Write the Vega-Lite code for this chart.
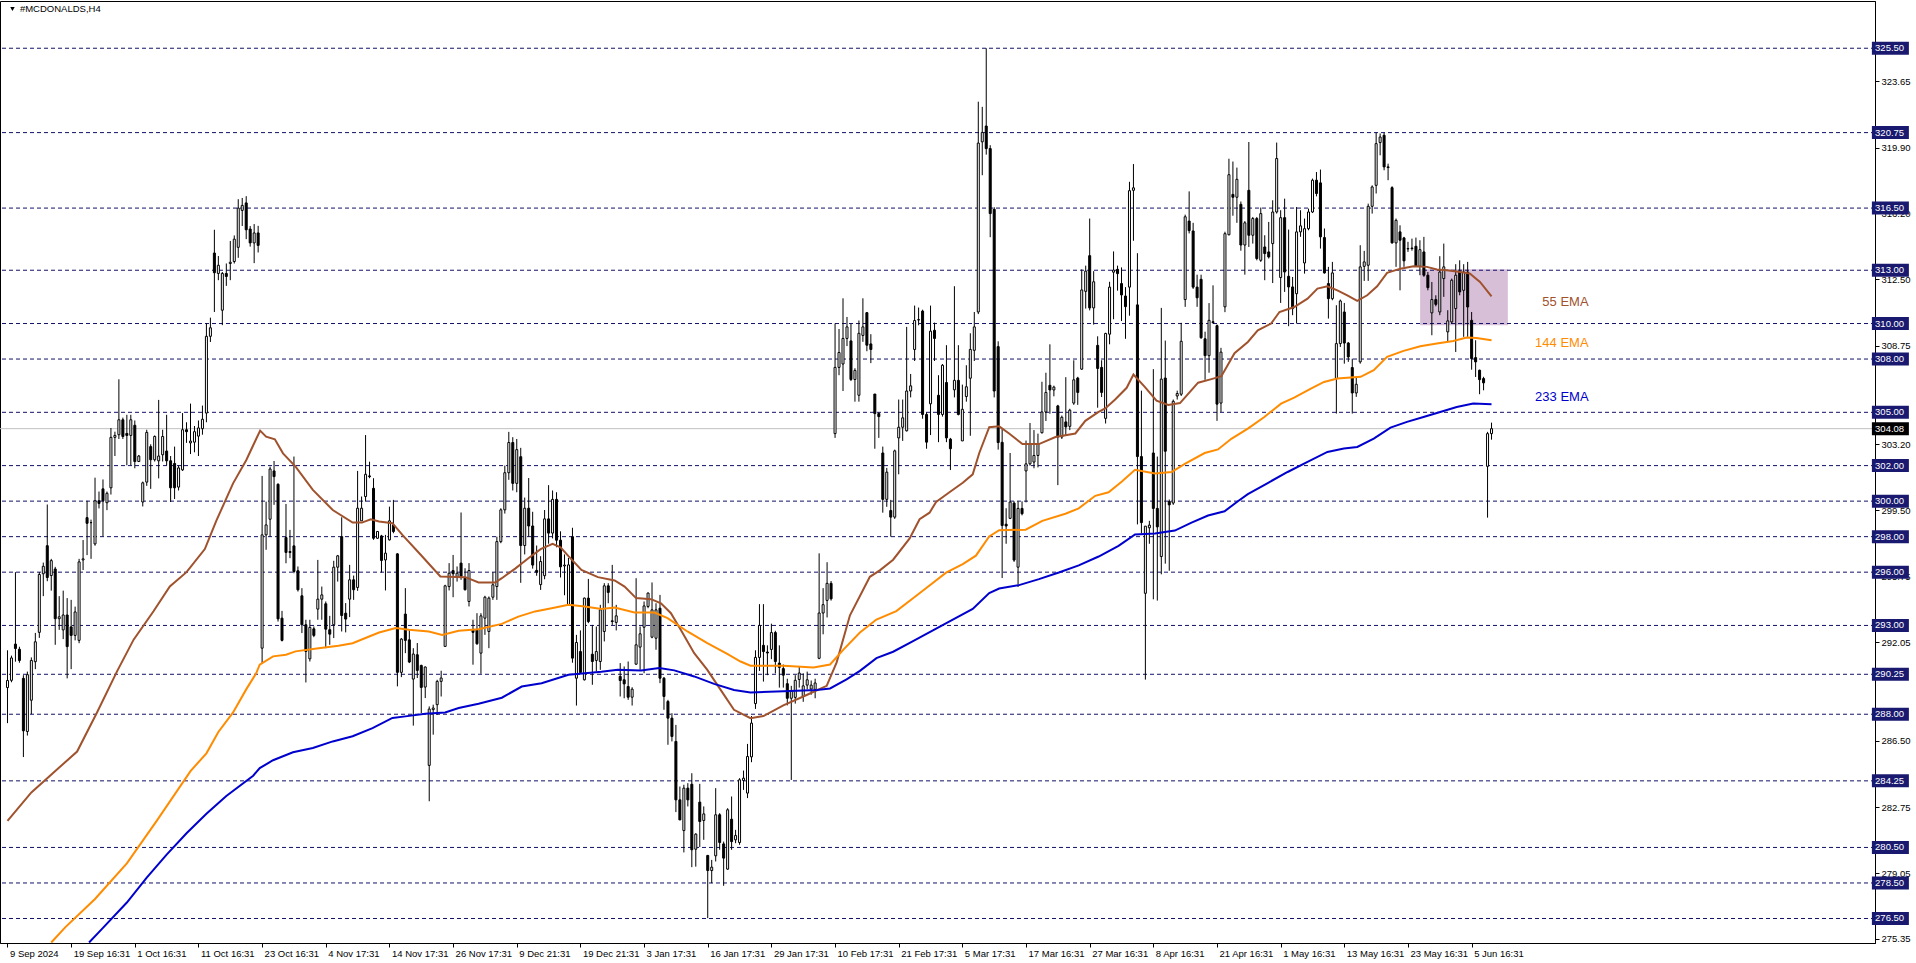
{
"$schema": "https://vega.github.io/schema/vega-lite/v6.json",
"autosize": "none",
"width": 1875,
"height": 942,
"padding": {"left": 0, "top": 1, "right": 41, "bottom": 20},
"background": "white",
"config": {"view": {"stroke": "#000000", "strokeWidth": 1}, "axis": {"labelFont": "Liberation Sans", "labelFontSize": 9.5}},
"datasets": {
"levels": [{"p":325.5},{"p":320.75},{"p":316.5},{"p":313},{"p":310},{"p":308},{"p":305},{"p":302},{"p":300},{"p":298},{"p":296},{"p":293},{"p":290.25},{"p":288},{"p":284.25},{"p":280.5},{"p":278.5},{"p":276.5}],
"emalabels": [{"s":"55 EMA","v":311.21},{"s":"144 EMA","v":308.9},{"s":"233 EMA","v":305.86}],
"ema": [
{"s":"55 EMA","i":0,"v":282.0},{"s":"55 EMA","i":6,"v":283.6},{"s":"55 EMA","i":13,"v":285.0},{"s":"55 EMA","i":17.5,"v":285.9},{"s":"55 EMA","i":22.5,"v":288.1},{"s":"55 EMA","i":27.5,"v":290.4},{"s":"55 EMA","i":31.7,"v":292.2},{"s":"55 EMA","i":36.7,"v":293.8},{"s":"55 EMA","i":40.8,"v":295.2},{"s":"55 EMA","i":45,"v":296.0},{"s":"55 EMA","i":49.6,"v":297.3},{"s":"55 EMA","i":52.5,"v":298.9},{"s":"55 EMA","i":56.7,"v":301.0},{"s":"55 EMA","i":60,"v":302.3},{"s":"55 EMA","i":62.5,"v":303.5},{"s":"55 EMA","i":63.5,"v":303.97},{"s":"55 EMA","i":65,"v":303.63},{"s":"55 EMA","i":67.2,"v":303.48},{"s":"55 EMA","i":69.25,"v":302.69},{"s":"55 EMA","i":72.4,"v":301.94},{"s":"55 EMA","i":76.75,"v":300.63},{"s":"55 EMA","i":81.75,"v":299.5},{"s":"55 EMA","i":86.75,"v":298.79},{"s":"55 EMA","i":89.1,"v":298.79},{"s":"55 EMA","i":91.3,"v":298.98},{"s":"55 EMA","i":93.4,"v":298.85},{"s":"55 EMA","i":96.75,"v":298.76},{"s":"55 EMA","i":99.25,"v":298.1},{"s":"55 EMA","i":104.25,"v":296.88},{"s":"55 EMA","i":108.8,"v":295.76},{"s":"55 EMA","i":115.1,"v":295.72},{"s":"55 EMA","i":118.4,"v":295.42},{"s":"55 EMA","i":122.6,"v":295.42},{"s":"55 EMA","i":124.25,"v":295.66},{"s":"55 EMA","i":127.6,"v":296.2},{"s":"55 EMA","i":131,"v":296.8},{"s":"55 EMA","i":134,"v":297.3},{"s":"55 EMA","i":137,"v":297.6},{"s":"55 EMA","i":139,"v":297.4},{"s":"55 EMA","i":141,"v":296.9},{"s":"55 EMA","i":144.25,"v":296.13},{"s":"55 EMA","i":148.4,"v":295.72},{"s":"55 EMA","i":152.6,"v":295.53},{"s":"55 EMA","i":155.1,"v":295.19},{"s":"55 EMA","i":158,"v":294.54},{"s":"55 EMA","i":161.75,"v":294.48},{"s":"55 EMA","i":164.25,"v":294.25},{"s":"55 EMA","i":166.75,"v":293.69},{"s":"55 EMA","i":169.25,"v":292.75},{"s":"55 EMA","i":172.6,"v":291.44},{"s":"55 EMA","i":175.9,"v":290.5},{"s":"55 EMA","i":179.25,"v":289.37},{"s":"55 EMA","i":182.6,"v":288.25},{"s":"55 EMA","i":186.75,"v":287.78},{"s":"55 EMA","i":190,"v":287.9},{"s":"55 EMA","i":195,"v":288.5},{"s":"55 EMA","i":201,"v":289.1},{"s":"55 EMA","i":205.9,"v":289.6},{"s":"55 EMA","i":208.4,"v":290.92},{"s":"55 EMA","i":211.75,"v":293.57},{"s":"55 EMA","i":216.75,"v":295.74},{"s":"55 EMA","i":219.25,"v":296.1},{"s":"55 EMA","i":222.6,"v":296.7},{"s":"55 EMA","i":226.75,"v":297.9},{"s":"55 EMA","i":229.25,"v":298.98},{"s":"55 EMA","i":231.75,"v":299.35},{"s":"55 EMA","i":233.4,"v":299.95},{"s":"55 EMA","i":236.75,"v":300.5},{"s":"55 EMA","i":240.1,"v":301.03},{"s":"55 EMA","i":242.6,"v":301.51},{"s":"55 EMA","i":244.25,"v":302.71},{"s":"55 EMA","i":246.75,"v":304.16},{"s":"55 EMA","i":249.25,"v":304.21},{"s":"55 EMA","i":251.75,"v":303.81},{"s":"55 EMA","i":255.1,"v":303.21},{"s":"55 EMA","i":259.25,"v":303.21},{"s":"55 EMA","i":263.4,"v":303.61},{"s":"55 EMA","i":268.4,"v":303.81},{"s":"55 EMA","i":270.9,"v":304.52},{"s":"55 EMA","i":274.25,"v":305.02},{"s":"55 EMA","i":275.9,"v":305.22},{"s":"55 EMA","i":278.4,"v":305.72},{"s":"55 EMA","i":281.3,"v":306.38},{"s":"55 EMA","i":283,"v":307.13},{"s":"55 EMA","i":285.9,"v":306.42},{"s":"55 EMA","i":288.8,"v":305.66},{"s":"55 EMA","i":291.75,"v":305.42},{"s":"55 EMA","i":294.7,"v":305.52},{"s":"55 EMA","i":299.25,"v":306.67},{"s":"55 EMA","i":302.6,"v":306.87},{"s":"55 EMA","i":305.1,"v":307.03},{"s":"55 EMA","i":308.4,"v":308.33},{"s":"55 EMA","i":311.75,"v":308.96},{"s":"55 EMA","i":314.25,"v":309.62},{"s":"55 EMA","i":317.6,"v":310.0},{"s":"55 EMA","i":319.7,"v":310.65},{"s":"55 EMA","i":323.4,"v":310.93},{"s":"55 EMA","i":326.75,"v":311.4},{"s":"55 EMA","i":329.25,"v":311.97},{"s":"55 EMA","i":331.75,"v":312.1},{"s":"55 EMA","i":334.25,"v":311.87},{"s":"55 EMA","i":336.75,"v":311.59},{"s":"55 EMA","i":339.25,"v":311.27},{"s":"55 EMA","i":341.75,"v":311.59},{"s":"55 EMA","i":344.25,"v":312.1},{"s":"55 EMA","i":346.75,"v":312.85},{"s":"55 EMA","i":350.1,"v":313.09},{"s":"55 EMA","i":353.4,"v":313.22},{"s":"55 EMA","i":356.75,"v":313.19},{"s":"55 EMA","i":359.25,"v":313.04},{"s":"55 EMA","i":361.75,"v":313.0},{"s":"55 EMA","i":365.1,"v":312.9},{"s":"55 EMA","i":367.6,"v":312.81},{"s":"55 EMA","i":370.1,"v":312.34},{"s":"55 EMA","i":373,"v":311.53},
{"s":"144 EMA","i":11,"v":275.15},{"s":"144 EMA","i":14.5,"v":276.0},{"s":"144 EMA","i":22,"v":277.6},{"s":"144 EMA","i":30,"v":279.6},{"s":"144 EMA","i":37.5,"v":282.0},{"s":"144 EMA","i":46,"v":284.8},{"s":"144 EMA","i":50,"v":285.8},{"s":"144 EMA","i":53,"v":287.0},{"s":"144 EMA","i":56.7,"v":288.1},{"s":"144 EMA","i":60,"v":289.4},{"s":"144 EMA","i":62.5,"v":290.3},{"s":"144 EMA","i":63.4,"v":290.79},{"s":"144 EMA","i":66.75,"v":291.26},{"s":"144 EMA","i":70,"v":291.35},{"s":"144 EMA","i":72.4,"v":291.54},{"s":"144 EMA","i":78.2,"v":291.72},{"s":"144 EMA","i":83.2,"v":291.86},{"s":"144 EMA","i":86.75,"v":292.0},{"s":"144 EMA","i":90.9,"v":292.38},{"s":"144 EMA","i":93.4,"v":292.6},{"s":"144 EMA","i":97.6,"v":292.85},{"s":"144 EMA","i":100.9,"v":292.76},{"s":"144 EMA","i":105.9,"v":292.66},{"s":"144 EMA","i":109.25,"v":292.47},{"s":"144 EMA","i":113.4,"v":292.7},{"s":"144 EMA","i":118.4,"v":292.79},{"s":"144 EMA","i":124.25,"v":293.09},{"s":"144 EMA","i":128.4,"v":293.5},{"s":"144 EMA","i":132.6,"v":293.79},{"s":"144 EMA","i":136.75,"v":293.97},{"s":"144 EMA","i":141,"v":294.16},{"s":"144 EMA","i":145.1,"v":294.07},{"s":"144 EMA","i":149.25,"v":293.92},{"s":"144 EMA","i":152.6,"v":294.01},{"s":"144 EMA","i":157.6,"v":293.73},{"s":"144 EMA","i":162.6,"v":293.73},{"s":"144 EMA","i":165.9,"v":293.41},{"s":"144 EMA","i":170.9,"v":292.66},{"s":"144 EMA","i":175.9,"v":292.0},{"s":"144 EMA","i":180.9,"v":291.4},{"s":"144 EMA","i":184.25,"v":290.97},{"s":"144 EMA","i":186.75,"v":290.73},{"s":"144 EMA","i":195.1,"v":290.73},{"s":"144 EMA","i":202.6,"v":290.63},{"s":"144 EMA","i":206.75,"v":290.8},{"s":"144 EMA","i":210.1,"v":291.64},{"s":"144 EMA","i":214.25,"v":292.6},{"s":"144 EMA","i":218.4,"v":293.33},{"s":"144 EMA","i":223.4,"v":293.81},{"s":"144 EMA","i":227.6,"v":294.53},{"s":"144 EMA","i":231.75,"v":295.25},{"s":"144 EMA","i":235.9,"v":295.97},{"s":"144 EMA","i":240.1,"v":296.45},{"s":"144 EMA","i":243.4,"v":296.93},{"s":"144 EMA","i":246.75,"v":298.01},{"s":"144 EMA","i":249.25,"v":298.36},{"s":"144 EMA","i":255.9,"v":298.39},{"s":"144 EMA","i":260.1,"v":298.89},{"s":"144 EMA","i":265.9,"v":299.29},{"s":"144 EMA","i":269.25,"v":299.59},{"s":"144 EMA","i":273.4,"v":300.3},{"s":"144 EMA","i":276.75,"v":300.5},{"s":"144 EMA","i":280.1,"v":301.1},{"s":"144 EMA","i":283.4,"v":301.76},{"s":"144 EMA","i":288.4,"v":301.56},{"s":"144 EMA","i":292.6,"v":301.64},{"s":"144 EMA","i":295.9,"v":302.1},{"s":"144 EMA","i":300.9,"v":302.71},{"s":"144 EMA","i":304.25,"v":302.91},{"s":"144 EMA","i":307.6,"v":303.51},{"s":"144 EMA","i":311.75,"v":304.08},{"s":"144 EMA","i":315.9,"v":304.74},{"s":"144 EMA","i":320.1,"v":305.49},{"s":"144 EMA","i":323.4,"v":305.83},{"s":"144 EMA","i":327.6,"v":306.34},{"s":"144 EMA","i":330.9,"v":306.71},{"s":"144 EMA","i":334.25,"v":306.9},{"s":"144 EMA","i":340.1,"v":307.0},{"s":"144 EMA","i":343.4,"v":307.37},{"s":"144 EMA","i":346.75,"v":308.12},{"s":"144 EMA","i":350.9,"v":308.46},{"s":"144 EMA","i":355.1,"v":308.72},{"s":"144 EMA","i":359.25,"v":308.87},{"s":"144 EMA","i":363.4,"v":309.02},{"s":"144 EMA","i":366.75,"v":309.21},{"s":"144 EMA","i":369.25,"v":309.19},{"s":"144 EMA","i":373,"v":309.06},
{"s":"233 EMA","i":20.5,"v":275.15},{"s":"233 EMA","i":23.7,"v":275.9},{"s":"233 EMA","i":30,"v":277.4},{"s":"233 EMA","i":35,"v":278.8},{"s":"233 EMA","i":40,"v":280.1},{"s":"233 EMA","i":45,"v":281.3},{"s":"233 EMA","i":50,"v":282.4},{"s":"233 EMA","i":55,"v":283.4},{"s":"233 EMA","i":61.75,"v":284.54},{"s":"233 EMA","i":63.4,"v":284.97},{"s":"233 EMA","i":66.75,"v":285.41},{"s":"233 EMA","i":71.75,"v":285.86},{"s":"233 EMA","i":76.75,"v":286.1},{"s":"233 EMA","i":81.75,"v":286.47},{"s":"233 EMA","i":86.75,"v":286.76},{"s":"233 EMA","i":91.75,"v":287.22},{"s":"233 EMA","i":96.75,"v":287.79},{"s":"233 EMA","i":100,"v":287.88},{"s":"233 EMA","i":105,"v":288.03},{"s":"233 EMA","i":110,"v":288.1},{"s":"233 EMA","i":113.4,"v":288.35},{"s":"233 EMA","i":118.4,"v":288.59},{"s":"233 EMA","i":124.25,"v":288.93},{"s":"233 EMA","i":129.25,"v":289.56},{"s":"233 EMA","i":134.25,"v":289.75},{"s":"233 EMA","i":141,"v":290.22},{"s":"233 EMA","i":149.25,"v":290.39},{"s":"233 EMA","i":153.4,"v":290.5},{"s":"233 EMA","i":159.25,"v":290.47},{"s":"233 EMA","i":163.8,"v":290.6},{"s":"233 EMA","i":167.6,"v":290.47},{"s":"233 EMA","i":172.6,"v":290.13},{"s":"233 EMA","i":177.6,"v":289.71},{"s":"233 EMA","i":182.6,"v":289.37},{"s":"233 EMA","i":186.75,"v":289.23},{"s":"233 EMA","i":195.1,"v":289.3},{"s":"233 EMA","i":203.4,"v":289.36},{"s":"233 EMA","i":206.75,"v":289.45},{"s":"233 EMA","i":210.9,"v":289.96},{"s":"233 EMA","i":214.25,"v":290.44},{"s":"233 EMA","i":218.4,"v":291.16},{"s":"233 EMA","i":222.6,"v":291.52},{"s":"233 EMA","i":227.6,"v":292.12},{"s":"233 EMA","i":232.6,"v":292.72},{"s":"233 EMA","i":237.6,"v":293.33},{"s":"233 EMA","i":242.6,"v":293.93},{"s":"233 EMA","i":246.75,"v":294.82},{"s":"233 EMA","i":249.25,"v":295.08},{"s":"233 EMA","i":254.25,"v":295.27},{"s":"233 EMA","i":259.25,"v":295.61},{"s":"233 EMA","i":264.25,"v":295.98},{"s":"233 EMA","i":269.25,"v":296.38},{"s":"233 EMA","i":274.25,"v":296.88},{"s":"233 EMA","i":279.25,"v":297.48},{"s":"233 EMA","i":283.4,"v":298.12},{"s":"233 EMA","i":288.4,"v":298.18},{"s":"233 EMA","i":293.4,"v":298.34},{"s":"233 EMA","i":297.6,"v":298.79},{"s":"233 EMA","i":301.75,"v":299.19},{"s":"233 EMA","i":305.9,"v":299.43},{"s":"233 EMA","i":309.25,"v":299.99},{"s":"233 EMA","i":311.75,"v":300.39},{"s":"233 EMA","i":316.75,"v":301.02},{"s":"233 EMA","i":321.75,"v":301.64},{"s":"233 EMA","i":326.75,"v":302.21},{"s":"233 EMA","i":331.75,"v":302.77},{"s":"233 EMA","i":335.9,"v":302.96},{"s":"233 EMA","i":339.25,"v":303.05},{"s":"233 EMA","i":343.4,"v":303.52},{"s":"233 EMA","i":347.6,"v":304.14},{"s":"233 EMA","i":351.75,"v":304.46},{"s":"233 EMA","i":355.9,"v":304.74},{"s":"233 EMA","i":360.1,"v":305.02},{"s":"233 EMA","i":364.25,"v":305.3},{"s":"233 EMA","i":368.4,"v":305.49},{"s":"233 EMA","i":373,"v":305.45}
],
"candles": [
{"i":0,"o":289.5,"h":291.6,"l":287.5,"c":289.9},
{"i":1,"o":289.91,"h":291.3,"l":289.8,"c":291.17},
{"i":2,"o":291.95,"h":296.0,"l":290.96,"c":291.7},
{"i":3,"o":291.66,"h":291.8,"l":290.9,"c":291.03},
{"i":4,"o":290.02,"h":290.2,"l":285.59,"c":287.07},
{"i":5,"o":287.03,"h":290.4,"l":286.8,"c":290.23},
{"i":6,"o":288.79,"h":291.2,"l":288.0,"c":291.03},
{"i":7,"o":290.96,"h":292.58,"l":290.54,"c":292.08},
{"i":8,"o":292.61,"h":296.0,"l":292.3,"c":295.87},
{"i":9,"o":295.91,"h":296.54,"l":294.65,"c":296.33},
{"i":10,"o":297.49,"h":299.81,"l":295.49,"c":295.7},
{"i":11,"o":295.81,"h":296.75,"l":294.96,"c":296.65},
{"i":12,"o":296.18,"h":296.3,"l":291.91,"c":293.38},
{"i":13,"o":293.38,"h":294.65,"l":292.75,"c":293.49},
{"i":14,"o":292.75,"h":294.96,"l":292.23,"c":293.59},
{"i":15,"o":293.59,"h":294.54,"l":290.02,"c":291.81},
{"i":16,"o":292.92,"h":294.44,"l":290.54,"c":292.44},
{"i":17,"o":292.44,"h":294.06,"l":292.16,"c":293.76},
{"i":18,"o":292.16,"h":296.75,"l":292.0,"c":296.58},
{"i":19,"o":296.69,"h":297.81,"l":296.12,"c":296.75},
{"i":20,"o":299.07,"h":300.02,"l":296.96,"c":298.75},
{"i":21,"o":298.79,"h":298.96,"l":296.75,"c":298.79},
{"i":22,"o":297.59,"h":301.32,"l":297.49,"c":300.02},
{"i":23,"o":300.02,"h":300.54,"l":299.59,"c":299.87},
{"i":24,"o":300.69,"h":301.22,"l":298.02,"c":300.02},
{"i":25,"o":299.91,"h":300.54,"l":299.49,"c":300.44},
{"i":26,"o":300.75,"h":304.12,"l":300.37,"c":303.59},
{"i":27,"o":303.59,"h":303.91,"l":302.54,"c":303.7},
{"i":28,"o":303.74,"h":306.86,"l":303.5,"c":304.58},
{"i":29,"o":304.58,"h":304.7,"l":303.5,"c":303.64},
{"i":30,"o":303.81,"h":304.86,"l":302.02,"c":303.7},
{"i":31,"o":303.7,"h":304.86,"l":302.02,"c":304.58},
{"i":32,"o":304.27,"h":304.54,"l":301.85,"c":302.23},
{"i":33,"o":302.23,"h":302.6,"l":302.2,"c":302.54},
{"i":34,"o":299.95,"h":301.1,"l":299.7,"c":301.03},
{"i":35,"o":301.07,"h":304.02,"l":300.86,"c":303.87},
{"i":36,"o":303.07,"h":303.2,"l":300.69,"c":302.33},
{"i":37,"o":302.33,"h":303.7,"l":302.23,"c":303.64},
{"i":38,"o":302.27,"h":305.7,"l":301.28,"c":302.54},
{"i":39,"o":302.61,"h":304.02,"l":302.23,"c":303.64},
{"i":40,"o":302.82,"h":304.86,"l":302.02,"c":302.27},
{"i":41,"o":302.27,"h":302.54,"l":299.95,"c":300.75},
{"i":42,"o":302.12,"h":303.07,"l":300.12,"c":300.75},
{"i":43,"o":300.79,"h":302.0,"l":300.6,"c":301.87},
{"i":44,"o":301.76,"h":304.96,"l":301.7,"c":304.02},
{"i":45,"o":304.02,"h":304.44,"l":303.28,"c":303.91},
{"i":46,"o":303.28,"h":305.49,"l":302.65,"c":303.38},
{"i":47,"o":303.32,"h":304.23,"l":302.75,"c":303.91},
{"i":48,"o":303.66,"h":304.54,"l":302.54,"c":304.12},
{"i":49,"o":304.08,"h":305.38,"l":303.74,"c":304.61},
{"i":50,"o":304.96,"h":310.02,"l":304.44,"c":309.28},
{"i":51,"o":309.28,"h":310.33,"l":308.96,"c":309.76},
{"i":52,"o":313.97,"h":315.28,"l":310.65,"c":312.86},
{"i":53,"o":312.82,"h":313.8,"l":312.44,"c":313.28},
{"i":54,"o":310.75,"h":312.9,"l":309.91,"c":312.82},
{"i":55,"o":312.82,"h":313.38,"l":312.12,"c":312.65},
{"i":56,"o":313.38,"h":314.65,"l":312.44,"c":313.45},
{"i":57,"o":313.49,"h":314.96,"l":313.38,"c":314.75},
{"i":58,"o":314.29,"h":317.0,"l":313.7,"c":316.5},
{"i":59,"o":316.37,"h":317.07,"l":315.49,"c":316.65},
{"i":60,"o":316.79,"h":317.17,"l":314.75,"c":315.28},
{"i":61,"o":315.32,"h":315.49,"l":314.33,"c":314.54},
{"i":62,"o":314.54,"h":315.6,"l":313.4,"c":315.1},
{"i":63,"o":315.1,"h":315.5,"l":314.0,"c":314.4},
{"i":64,"o":291.72,"h":301.42,"l":290.88,"c":298.1},
{"i":65,"o":298.1,"h":299.97,"l":297.26,"c":298.66},
{"i":66,"o":298.98,"h":301.94,"l":298.0,"c":301.81},
{"i":67,"o":301.7,"h":302.26,"l":299.79,"c":301.38},
{"i":68,"o":300.95,"h":301.0,"l":293.22,"c":293.37},
{"i":69,"o":293.41,"h":293.82,"l":292.1,"c":292.16},
{"i":70,"o":297.95,"h":299.84,"l":296.5,"c":297.11},
{"i":71,"o":297.16,"h":298.38,"l":296.79,"c":297.11},
{"i":72,"o":297.48,"h":302.51,"l":295.94,"c":296.04},
{"i":73,"o":296.08,"h":296.32,"l":294.91,"c":295.01},
{"i":74,"o":294.67,"h":295.1,"l":292.57,"c":293.04},
{"i":75,"o":293.04,"h":293.32,"l":289.79,"c":291.54},
{"i":76,"o":291.12,"h":293.32,"l":290.97,"c":292.89},
{"i":77,"o":292.81,"h":292.94,"l":292.34,"c":292.44},
{"i":78,"o":293.92,"h":296.69,"l":293.32,"c":294.48},
{"i":79,"o":294.48,"h":295.19,"l":293.32,"c":294.72},
{"i":80,"o":294.22,"h":294.35,"l":291.72,"c":292.79},
{"i":81,"o":292.76,"h":293.54,"l":291.91,"c":292.51},
{"i":82,"o":293.04,"h":296.64,"l":292.29,"c":296.28},
{"i":83,"o":296.28,"h":296.97,"l":295.47,"c":296.92},
{"i":84,"o":298.0,"h":299.09,"l":292.66,"c":293.56},
{"i":85,"o":293.69,"h":294.26,"l":292.61,"c":293.36},
{"i":86,"o":294.48,"h":296.41,"l":293.47,"c":295.57},
{"i":87,"o":295.57,"h":295.81,"l":294.44,"c":295.01},
{"i":88,"o":295.14,"h":301.7,"l":294.95,"c":299.6},
{"i":89,"o":298.89,"h":300.26,"l":298.89,"c":299.6},
{"i":90,"o":300.26,"h":303.72,"l":299.97,"c":301.51},
{"i":91,"o":301.42,"h":302.22,"l":301.29,"c":301.38},
{"i":92,"o":300.72,"h":301.29,"l":297.82,"c":297.91},
{"i":93,"o":297.91,"h":298.32,"l":297.87,"c":298.29},
{"i":94,"o":298.04,"h":298.1,"l":295.98,"c":296.66},
{"i":95,"o":296.69,"h":298.1,"l":294.97,"c":297.07},
{"i":96,"o":297.82,"h":299.69,"l":297.78,"c":298.89},
{"i":97,"o":298.66,"h":300.07,"l":298.19,"c":298.29},
{"i":98,"o":297.03,"h":297.07,"l":289.57,"c":290.36},
{"i":99,"o":290.36,"h":292.29,"l":290.09,"c":292.23},
{"i":100,"o":293.64,"h":295.1,"l":291.44,"c":292.16},
{"i":101,"o":292.19,"h":292.76,"l":290.88,"c":290.94},
{"i":102,"o":289.98,"h":291.72,"l":287.36,"c":291.39},
{"i":103,"o":291.35,"h":292.01,"l":290.04,"c":290.47},
{"i":104,"o":290.75,"h":290.79,"l":288.07,"c":289.51},
{"i":105,"o":289.53,"h":290.69,"l":288.91,"c":290.66},
{"i":106,"o":285.12,"h":288.44,"l":283.1,"c":288.29},
{"i":107,"o":288.26,"h":288.54,"l":286.85,"c":288.35},
{"i":108,"o":288.54,"h":289.94,"l":287.97,"c":289.85},
{"i":109,"o":289.85,"h":290.45,"l":289.0,"c":290.04},
{"i":110,"o":291.82,"h":295.29,"l":291.82,"c":295.23},
{"i":111,"o":295.19,"h":296.51,"l":294.97,"c":295.94},
{"i":112,"o":296.09,"h":296.97,"l":294.59,"c":295.91},
{"i":113,"o":295.76,"h":296.32,"l":295.47,"c":295.94},
{"i":114,"o":296.51,"h":299.36,"l":295.57,"c":295.76},
{"i":115,"o":295.66,"h":296.22,"l":294.97,"c":295.01},
{"i":116,"o":294.35,"h":296.51,"l":294.07,"c":296.09},
{"i":117,"o":292.76,"h":293.32,"l":290.79,"c":292.61},
{"i":118,"o":292.76,"h":293.69,"l":291.91,"c":291.97},
{"i":119,"o":291.44,"h":293.69,"l":290.28,"c":293.54},
{"i":120,"o":293.41,"h":294.67,"l":292.47,"c":294.59},
{"i":121,"o":292.66,"h":294.63,"l":291.72,"c":294.54},
{"i":122,"o":294.59,"h":296.0,"l":294.44,"c":295.29},
{"i":123,"o":295.19,"h":298.0,"l":294.44,"c":297.72},
{"i":124,"o":297.72,"h":299.6,"l":297.63,"c":299.51},
{"i":125,"o":299.51,"h":302.0,"l":299.3,"c":301.6},
{"i":126,"o":301.6,"h":303.9,"l":301.2,"c":303.3},
{"i":127,"o":303.3,"h":303.6,"l":300.6,"c":301.0},
{"i":128,"o":301.0,"h":303.5,"l":300.5,"c":302.9},
{"i":129,"o":302.5,"h":303.0,"l":295.4,"c":297.5},
{"i":130,"o":297.5,"h":300.2,"l":297.0,"c":299.6},
{"i":131,"o":299.6,"h":301.3,"l":298.0,"c":298.6},
{"i":132,"o":298.6,"h":299.4,"l":296.2,"c":296.4},
{"i":133,"o":296.1,"h":297.5,"l":295.8,"c":296.0},
{"i":134,"o":295.3,"h":296.9,"l":295.0,"c":296.6},
{"i":135,"o":295.8,"h":299.5,"l":295.6,"c":299.0},
{"i":136,"o":299.0,"h":300.9,"l":297.6,"c":298.2},
{"i":137,"o":298.2,"h":300.6,"l":297.9,"c":300.1},
{"i":138,"o":300.1,"h":300.5,"l":297.4,"c":297.8},
{"i":139,"o":297.8,"h":298.3,"l":295.7,"c":296.3},
{"i":140,"o":296.35,"h":297.0,"l":294.7,"c":296.4},
{"i":141,"o":294.16,"h":296.8,"l":294.1,"c":296.41},
{"i":142,"o":298.0,"h":298.5,"l":290.9,"c":291.16},
{"i":143,"o":290.03,"h":292.47,"l":288.49,"c":292.04},
{"i":144,"o":291.53,"h":292.72,"l":290.31,"c":290.35},
{"i":145,"o":289.94,"h":294.57,"l":289.9,"c":294.54},
{"i":146,"o":294.54,"h":295.62,"l":293.13,"c":293.22},
{"i":147,"o":291.38,"h":293.03,"l":289.66,"c":290.97},
{"i":148,"o":291.03,"h":292.94,"l":290.41,"c":291.53},
{"i":149,"o":290.97,"h":294.16,"l":290.5,"c":293.88},
{"i":150,"o":292.66,"h":295.38,"l":292.1,"c":295.23},
{"i":151,"o":295.23,"h":295.38,"l":294.25,"c":294.86},
{"i":152,"o":293.26,"h":296.41,"l":293.03,"c":293.22},
{"i":153,"o":293.17,"h":294.16,"l":292.72,"c":293.54},
{"i":154,"o":290.13,"h":290.88,"l":289.0,"c":289.9},
{"i":155,"o":289.94,"h":290.69,"l":288.9,"c":289.71},
{"i":156,"o":289.56,"h":290.97,"l":288.81,"c":288.96},
{"i":157,"o":288.96,"h":289.52,"l":288.49,"c":289.41},
{"i":158,"o":290.82,"h":295.66,"l":290.78,"c":291.91},
{"i":159,"o":291.78,"h":292.94,"l":290.5,"c":292.53},
{"i":160,"o":292.9,"h":294.35,"l":290.31,"c":294.1},
{"i":161,"o":294.07,"h":294.86,"l":293.97,"c":294.82},
{"i":162,"o":292.34,"h":295.42,"l":292.28,"c":293.88},
{"i":163,"o":292.28,"h":294.25,"l":291.63,"c":293.88},
{"i":164,"o":293.97,"h":294.72,"l":289.75,"c":290.03},
{"i":165,"o":290.03,"h":290.1,"l":288.25,"c":289.0},
{"i":166,"o":288.72,"h":288.81,"l":286.28,"c":287.78},
{"i":167,"o":287.78,"h":288.06,"l":286.47,"c":286.75},
{"i":168,"o":286.47,"h":287.4,"l":282.49,"c":283.18},
{"i":169,"o":283.18,"h":283.93,"l":282.05,"c":282.05},
{"i":170,"o":281.45,"h":284.03,"l":280.22,"c":283.84},
{"i":171,"o":283.84,"h":284.12,"l":282.81,"c":283.18},
{"i":172,"o":284.06,"h":284.68,"l":279.39,"c":280.37},
{"i":173,"o":280.4,"h":281.3,"l":279.42,"c":281.25},
{"i":174,"o":283.05,"h":284.08,"l":280.52,"c":281.96},
{"i":175,"o":282.02,"h":282.81,"l":280.93,"c":282.39},
{"i":176,"o":280.05,"h":280.08,"l":276.52,"c":279.2},
{"i":177,"o":279.2,"h":279.8,"l":278.49,"c":279.39},
{"i":178,"o":280.03,"h":283.84,"l":279.71,"c":282.34},
{"i":179,"o":282.34,"h":282.43,"l":280.37,"c":280.78},
{"i":180,"o":280.7,"h":280.83,"l":278.34,"c":279.9},
{"i":181,"o":279.28,"h":282.71,"l":279.24,"c":282.62},
{"i":182,"o":282.09,"h":283.37,"l":280.37,"c":280.83},
{"i":183,"o":280.93,"h":281.49,"l":280.74,"c":281.17},
{"i":184,"o":280.78,"h":284.4,"l":280.65,"c":284.31},
{"i":185,"o":284.27,"h":284.83,"l":283.74,"c":284.4},
{"i":186,"o":283.56,"h":286.33,"l":283.28,"c":285.62},
{"i":187,"o":285.6,"h":287.9,"l":285.3,"c":287.5},
{"i":188,"o":288.6,"h":291.6,"l":288.3,"c":291.2},
{"i":189,"o":291.2,"h":294.2,"l":290.44,"c":293.0},
{"i":190,"o":291.88,"h":294.2,"l":289.84,"c":291.53},
{"i":191,"o":291.5,"h":291.88,"l":290.2,"c":291.45},
{"i":192,"o":291.65,"h":293.1,"l":291.1,"c":292.6},
{"i":193,"o":292.6,"h":292.7,"l":290.3,"c":290.97},
{"i":194,"o":290.88,"h":291.88,"l":289.5,"c":290.64},
{"i":195,"o":290.57,"h":290.8,"l":289.5,"c":290.2},
{"i":196,"o":289.72,"h":290.0,"l":288.5,"c":288.9},
{"i":197,"o":288.9,"h":289.6,"l":284.3,"c":289.3},
{"i":198,"o":288.95,"h":290.2,"l":288.6,"c":289.91},
{"i":199,"o":289.96,"h":290.7,"l":289.5,"c":290.32},
{"i":200,"o":289.0,"h":290.3,"l":288.7,"c":289.6},
{"i":201,"o":289.64,"h":290.4,"l":289.4,"c":289.94},
{"i":202,"o":289.42,"h":289.9,"l":289.1,"c":289.64},
{"i":203,"o":289.4,"h":290.0,"l":288.9,"c":289.76},
{"i":204,"o":291.15,"h":297.06,"l":291.1,"c":293.7},
{"i":205,"o":293.7,"h":295.1,"l":292.5,"c":294.17},
{"i":206,"o":294.41,"h":296.56,"l":293.45,"c":295.37},
{"i":207,"o":295.37,"h":295.5,"l":294.4,"c":294.5},
{"i":208,"o":303.8,"h":310.0,"l":303.56,"c":307.53},
{"i":209,"o":307.53,"h":309.69,"l":307.09,"c":308.37},
{"i":210,"o":307.72,"h":311.42,"l":306.2,"c":309.16},
{"i":211,"o":309.16,"h":310.37,"l":308.73,"c":309.81},
{"i":212,"o":309.02,"h":309.98,"l":306.76,"c":306.85},
{"i":213,"o":306.85,"h":307.48,"l":305.6,"c":307.36},
{"i":214,"o":305.96,"h":310.17,"l":305.6,"c":309.45},
{"i":215,"o":309.33,"h":311.42,"l":308.97,"c":309.81},
{"i":216,"o":310.61,"h":310.65,"l":308.44,"c":308.78},
{"i":217,"o":308.85,"h":309.4,"l":307.77,"c":308.54},
{"i":218,"o":306.03,"h":306.03,"l":302.95,"c":304.93},
{"i":219,"o":304.93,"h":305.0,"l":303.56,"c":304.76},
{"i":220,"o":302.71,"h":303.07,"l":299.35,"c":300.1},
{"i":221,"o":300.1,"h":301.87,"l":299.68,"c":301.63},
{"i":222,"o":299.47,"h":300.07,"l":298.0,"c":299.1},
{"i":223,"o":299.1,"h":302.9,"l":299.0,"c":302.83},
{"i":224,"o":303.56,"h":305.72,"l":301.51,"c":304.16},
{"i":225,"o":304.16,"h":305.72,"l":303.39,"c":304.69},
{"i":226,"o":303.96,"h":309.81,"l":303.92,"c":306.2},
{"i":227,"o":306.2,"h":307.16,"l":305.84,"c":306.49},
{"i":228,"o":308.54,"h":311.01,"l":307.89,"c":310.17},
{"i":229,"o":310.2,"h":310.9,"l":309.9,"c":310.22},
{"i":230,"o":310.7,"h":310.78,"l":304.64,"c":304.88},
{"i":231,"o":304.88,"h":305.0,"l":302.95,"c":303.32},
{"i":232,"o":305.48,"h":311.01,"l":303.72,"c":309.57},
{"i":233,"o":309.62,"h":310.05,"l":307.89,"c":309.16},
{"i":234,"o":305.96,"h":307.09,"l":303.32,"c":304.88},
{"i":235,"o":304.88,"h":307.72,"l":304.76,"c":307.65},
{"i":236,"o":306.68,"h":308.78,"l":303.32,"c":303.56},
{"i":237,"o":303.49,"h":303.56,"l":301.75,"c":302.95},
{"i":238,"o":306.27,"h":312.1,"l":305.84,"c":306.8},
{"i":239,"o":306.8,"h":308.78,"l":304.83,"c":304.88},
{"i":240,"o":303.39,"h":306.56,"l":303.39,"c":305.17},
{"i":241,"o":305.89,"h":307.65,"l":305.6,"c":306.44},
{"i":242,"o":306.92,"h":309.45,"l":303.68,"c":308.54},
{"i":243,"o":308.49,"h":310.65,"l":307.89,"c":309.81},
{"i":244,"o":310.65,"h":322.49,"l":310.53,"c":320.16},
{"i":245,"o":320.23,"h":322.2,"l":318.35,"c":320.76},
{"i":246,"o":321.12,"h":325.5,"l":319.51,"c":319.85},
{"i":247,"o":319.85,"h":320.04,"l":314.86,"c":316.19},
{"i":248,"o":316.43,"h":316.55,"l":305.84,"c":306.2},
{"i":249,"o":308.7,"h":309.0,"l":302.9,"c":303.3},
{"i":250,"o":303.31,"h":304.11,"l":295.67,"c":298.63},
{"i":251,"o":298.7,"h":299.6,"l":297.6,"c":298.6},
{"i":252,"o":299.03,"h":302.71,"l":298.99,"c":299.95},
{"i":253,"o":299.89,"h":299.99,"l":296.58,"c":296.68},
{"i":254,"o":296.28,"h":299.99,"l":295.17,"c":299.59},
{"i":255,"o":299.59,"h":299.99,"l":299.2,"c":299.29},
{"i":256,"o":301.7,"h":303.41,"l":299.93,"c":302.1},
{"i":257,"o":302.1,"h":304.4,"l":302.0,"c":303.2},
{"i":258,"o":302.2,"h":304.0,"l":301.85,"c":302.57},
{"i":259,"o":302.57,"h":303.8,"l":301.9,"c":303.21},
{"i":260,"o":303.85,"h":306.72,"l":303.81,"c":305.02},
{"i":261,"o":305.02,"h":307.23,"l":304.51,"c":306.12},
{"i":262,"o":306.52,"h":308.83,"l":304.92,"c":306.26},
{"i":263,"o":306.26,"h":306.5,"l":305.9,"c":306.42},
{"i":264,"o":305.36,"h":305.42,"l":300.9,"c":303.61},
{"i":265,"o":303.61,"h":304.82,"l":303.5,"c":304.72},
{"i":266,"o":304.46,"h":306.98,"l":303.71,"c":304.18},
{"i":267,"o":304.21,"h":305.2,"l":304.0,"c":305.12},
{"i":268,"o":305.52,"h":307.93,"l":305.42,"c":306.83},
{"i":269,"o":306.93,"h":307.0,"l":305.42,"c":306.12},
{"i":270,"o":307.43,"h":313.05,"l":307.39,"c":311.89},
{"i":271,"o":311.81,"h":313.26,"l":310.84,"c":312.95},
{"i":272,"o":313.82,"h":315.91,"l":310.74,"c":310.88},
{"i":273,"o":310.88,"h":312.95,"l":309.94,"c":312.35},
{"i":274,"o":308.77,"h":309.28,"l":305.26,"c":307.47},
{"i":275,"o":307.53,"h":307.93,"l":305.86,"c":306.12},
{"i":276,"o":304.66,"h":309.48,"l":304.37,"c":309.44},
{"i":277,"o":309.4,"h":312.35,"l":308.83,"c":312.05},
{"i":278,"o":312.89,"h":314.06,"l":310.24,"c":313.01},
{"i":279,"o":313.05,"h":313.26,"l":311.85,"c":312.81},
{"i":280,"o":312.25,"h":313.16,"l":310.14,"c":311.61},
{"i":281,"o":311.55,"h":312.05,"l":309.14,"c":310.95},
{"i":282,"o":312.05,"h":317.98,"l":310.44,"c":317.48},
{"i":283,"o":317.5,"h":318.98,"l":314.66,"c":317.64},
{"i":284,"o":311.05,"h":313.96,"l":298.69,"c":302.51},
{"i":285,"o":302.51,"h":306.22,"l":298.19,"c":298.79},
{"i":286,"o":294.81,"h":298.6,"l":289.95,"c":298.59},
{"i":287,"o":298.5,"h":298.89,"l":297.6,"c":298.65},
{"i":288,"o":302.71,"h":307.43,"l":294.47,"c":299.59},
{"i":289,"o":299.59,"h":302.51,"l":294.4,"c":298.55},
{"i":290,"o":296.88,"h":310.88,"l":295.88,"c":306.87},
{"i":291,"o":306.93,"h":309.04,"l":296.48,"c":302.81},
{"i":292,"o":299.99,"h":300.09,"l":296.08,"c":299.79},
{"i":293,"o":299.89,"h":305.72,"l":299.79,"c":305.62},
{"i":294,"o":305.92,"h":306.22,"l":305.72,"c":306.06},
{"i":295,"o":306.02,"h":310.04,"l":305.92,"c":309.0},
{"i":296,"o":311.35,"h":316.13,"l":310.94,"c":316.01},
{"i":297,"o":315.77,"h":317.44,"l":315.07,"c":315.23},
{"i":298,"o":315.21,"h":315.67,"l":311.95,"c":312.05},
{"i":299,"o":312.05,"h":312.75,"l":310.94,"c":311.45},
{"i":300,"o":312.49,"h":312.75,"l":309.14,"c":309.2},
{"i":301,"o":309.14,"h":309.54,"l":306.83,"c":308.19},
{"i":302,"o":308.19,"h":311.15,"l":307.23,"c":310.18},
{"i":303,"o":310.1,"h":312.15,"l":310.0,"c":310.05},
{"i":304,"o":309.88,"h":309.94,"l":304.52,"c":305.46},
{"i":305,"o":305.52,"h":308.63,"l":305.02,"c":308.39},
{"i":306,"o":310.94,"h":315.17,"l":310.64,"c":315.06},
{"i":307,"o":315.0,"h":319.28,"l":314.96,"c":318.38},
{"i":308,"o":317.27,"h":319.12,"l":316.07,"c":317.11},
{"i":309,"o":317.11,"h":318.78,"l":315.67,"c":318.12},
{"i":310,"o":316.71,"h":316.87,"l":314.1,"c":314.42},
{"i":311,"o":314.42,"h":315.77,"l":312.75,"c":315.67},
{"i":312,"o":317.5,"h":320.22,"l":314.31,"c":314.97},
{"i":313,"o":314.97,"h":316.0,"l":314.5,"c":315.91},
{"i":314,"o":315.91,"h":316.0,"l":313.56,"c":313.66},
{"i":315,"o":313.56,"h":316.53,"l":313.47,"c":316.19},
{"i":316,"o":314.31,"h":314.97,"l":312.44,"c":313.94},
{"i":317,"o":314.03,"h":315.72,"l":313.66,"c":313.75},
{"i":318,"o":314.5,"h":316.94,"l":312.28,"c":316.28},
{"i":319,"o":316.28,"h":320.19,"l":316.19,"c":319.29},
{"i":320,"o":312.59,"h":316.38,"l":311.16,"c":315.96},
{"i":321,"o":315.96,"h":317.03,"l":311.78,"c":312.9},
{"i":322,"o":312.66,"h":315.29,"l":309.85,"c":312.06},
{"i":323,"o":312.06,"h":312.62,"l":310.47,"c":310.84},
{"i":324,"o":311.68,"h":316.56,"l":310.0,"c":315.16},
{"i":325,"o":315.16,"h":316.38,"l":314.88,"c":315.5},
{"i":326,"o":313.41,"h":315.91,"l":312.81,"c":315.34},
{"i":327,"o":315.34,"h":316.47,"l":315.25,"c":316.28},
{"i":328,"o":316.28,"h":318.16,"l":316.22,"c":318.07},
{"i":329,"o":318.07,"h":318.53,"l":317.16,"c":317.32},
{"i":330,"o":317.92,"h":318.67,"l":314.22,"c":314.88},
{"i":331,"o":314.84,"h":315.35,"l":312.81,"c":312.85},
{"i":332,"o":312.25,"h":313.19,"l":310.28,"c":311.4},
{"i":333,"o":311.4,"h":313.47,"l":311.31,"c":312.85},
{"i":334,"o":306.9,"h":311.03,"l":304.93,"c":308.87},
{"i":335,"o":308.87,"h":311.35,"l":308.68,"c":311.27},
{"i":336,"o":310.65,"h":311.16,"l":307.74,"c":308.9},
{"i":337,"o":308.9,"h":308.96,"l":307.84,"c":308.12},
{"i":338,"o":307.52,"h":308.02,"l":304.93,"c":306.09},
{"i":339,"o":306.09,"h":307.0,"l":305.87,"c":306.58},
{"i":340,"o":307.84,"h":314.41,"l":307.74,"c":313.19},
{"i":341,"o":313.22,"h":314.09,"l":312.4,"c":313.47},
{"i":342,"o":313.28,"h":316.75,"l":312.4,"c":316.6},
{"i":343,"o":316.6,"h":317.78,"l":316.19,"c":317.69},
{"i":344,"o":317.78,"h":320.75,"l":317.32,"c":320.13},
{"i":345,"o":320.19,"h":320.7,"l":319.47,"c":320.5},
{"i":346,"o":320.6,"h":320.73,"l":318.63,"c":318.82},
{"i":347,"o":318.82,"h":319.0,"l":318.07,"c":318.78},
{"i":348,"o":317.65,"h":317.73,"l":314.5,"c":314.54},
{"i":349,"o":314.54,"h":315.91,"l":313.19,"c":315.81},
{"i":350,"o":315.16,"h":315.53,"l":311.87,"c":314.69},
{"i":351,"o":314.82,"h":314.88,"l":313.19,"c":313.53},
{"i":352,"o":314.22,"h":314.6,"l":314.03,"c":314.2},
{"i":353,"o":314.25,"h":314.78,"l":314.1,"c":314.22},
{"i":354,"o":314.35,"h":314.84,"l":313.19,"c":313.22},
{"i":355,"o":313.22,"h":314.69,"l":312.72,"c":314.16},
{"i":356,"o":314.03,"h":314.88,"l":312.63,"c":312.72},
{"i":357,"o":312.72,"h":312.9,"l":311.87,"c":312.02},
{"i":358,"o":310.6,"h":312.34,"l":309.34,"c":311.35},
{"i":359,"o":311.35,"h":311.59,"l":310.97,"c":311.08},
{"i":360,"o":310.65,"h":313.79,"l":310.47,"c":312.9},
{"i":361,"o":312.53,"h":314.5,"l":311.5,"c":313.19},
{"i":362,"o":309.53,"h":310.75,"l":308.96,"c":310.15},
{"i":363,"o":310.09,"h":312.53,"l":309.99,"c":312.44},
{"i":364,"o":310.84,"h":313.34,"l":308.4,"c":312.72},
{"i":365,"o":312.94,"h":313.56,"l":311.59,"c":311.78},
{"i":366,"o":311.87,"h":313.34,"l":309.25,"c":312.9},
{"i":367,"o":312.9,"h":313.47,"l":309.25,"c":310.93},
{"i":368,"o":310.18,"h":310.65,"l":307.4,"c":308.02},
{"i":369,"o":308.08,"h":309.06,"l":306.99,"c":307.84},
{"i":370,"o":307.37,"h":307.4,"l":306.02,"c":306.84},
{"i":371,"o":306.9,"h":307.0,"l":306.24,"c":306.66},
{"i":372,"o":301.96,"h":303.9,"l":299.07,"c":303.8},
{"i":373,"o":303.8,"h":304.42,"l":303.46,"c":304.08}
]
},
"layer": [
{
"data": {"values": [{}]},
"mark": {"type": "rect", "color": "#D8BFD8", "opacity": 1},
"encoding": {
"x": {"datum": 355.05, "type": "quantitative", "title": null},
"x2": {"datum": 377.1},
"y": {"datum": 313.05, "type": "quantitative", "title": null},
"y2": {"datum": 309.9}
}
},
{
"data": {"name": "levels"},
"mark": {"type": "rule", "color": "#12126A", "strokeWidth": 1, "strokeDash": [4, 3]},
"encoding": {"y": {"field": "p", "type": "quantitative", "title": null}}
},
{
"data": {"values": [{}]},
"mark": {"type": "rule", "color": "#C0C0C0", "strokeWidth": 1},
"encoding": {"y": {"datum": 304.08, "type": "quantitative", "title": null}}
},
{
"data": {"name": "candles"},
"mark": {"type": "rule", "color": "#000000", "strokeWidth": 1},
"encoding": {
"x": {"field": "i", "type": "quantitative", "title": null,
"scale": {"domain": [-0.625, 468.125], "nice": false, "zero": false},
"axis": {"values": [0,16,32,48,64,80,96,112,128,144,160,176,192,208,224,240,256,272,288,304,320,336,352,368],
"labelExpr": "['9 Sep 2024','19 Sep 16:31','1 Oct 16:31','11 Oct 16:31','23 Oct 16:31','4 Nov 17:31','14 Nov 17:31','26 Nov 17:31','9 Dec 21:31','19 Dec 21:31','3 Jan 17:31','16 Jan 17:31','29 Jan 17:31','10 Feb 17:31','21 Feb 17:31','5 Mar 17:31','17 Mar 16:31','27 Mar 16:31','8 Apr 16:31','21 Apr 16:31','1 May 16:31','13 May 16:31','23 May 16:31','5 Jun 16:31'][round(datum.value/16)]",
"labelAlign": "left", "labelBaseline": "top", "labelOffset": 2, "labelPadding": 1, "labelFlush": false, "labelOverlap": false, "labelBound": false,
"tickSize": 4, "tickColor": "#000000", "domainColor": "#000000", "labelColor": "#000000", "grid": false, "labelFont": "Liberation Sans", "labelFontSize": 9.5}},
"y": {"field": "l", "type": "quantitative", "title": null,
"scale": {"domain": [275.12, 328.16], "nice": false, "zero": false},
"axis": {"orient": "right", "values": [327.35,323.65,321.8,319.9,318.05,316.2,314.35,312.5,310.65,308.75,306.9,303.2,301.35,299.5,297.65,295.75,293.9,292.05,288.35,286.5,284.65,282.75,280.9,279.05,277.2,275.35],
"format": ".2f", "labelAlign": "left", "labelBaseline": "middle", "labelPadding": 2, "labelFlush": false, "labelOverlap": false, "labelBound": false,
"tickSize": 4, "tickColor": "#000000", "domainColor": "#000000", "labelColor": "#000000", "grid": false, "labelFont": "Liberation Sans", "labelFontSize": 9.5}},
"y2": {"field": "h"}
}
},
{
"data": {"name": "candles"},
"mark": {"type": "bar", "width": 2, "stroke": "#000000", "strokeWidth": 1},
"encoding": {
"x": {"field": "i", "type": "quantitative", "title": null},
"y": {"field": "o", "type": "quantitative", "title": null},
"y2": {"field": "c"},
"fill": {"condition": {"test": "datum.c >= datum.o", "value": "#FFFFFF"}, "value": "#000000"}
}
},
{
"data": {"name": "ema"},
"mark": {"type": "line", "strokeWidth": 2},
"encoding": {
"x": {"field": "i", "type": "quantitative", "title": null},
"y": {"field": "v", "type": "quantitative", "title": null},
"color": {"field": "s", "type": "nominal", "legend": null, "scale": {"domain": ["55 EMA", "144 EMA", "233 EMA"], "range": ["#A0522D", "#FF8C00", "#0000CD"]}}
}
},
{
"data": {"name": "emalabels"},
"mark": {"type": "text", "align": "right", "baseline": "middle", "font": "Liberation Sans", "fontSize": 13},
"encoding": {
"x": {"datum": 397.4, "type": "quantitative", "title": null},
"y": {"field": "v", "type": "quantitative", "title": null},
"text": {"field": "s", "type": "nominal"},
"color": {"field": "s", "type": "nominal", "legend": null}
}
},
{
"data": {"name": "levels"},
"mark": {"type": "tick", "orient": "horizontal", "size": 37, "thickness": 13, "color": "#191970", "opacity": 1},
"encoding": {
"x": {"datum": 473.25, "type": "quantitative", "title": null},
"y": {"field": "p", "type": "quantitative", "title": null}
}
},
{
"data": {"name": "levels"},
"mark": {"type": "text", "align": "left", "baseline": "middle", "color": "#FFFFFF", "font": "Liberation Sans", "fontSize": 9.5},
"encoding": {
"x": {"datum": 469.4, "type": "quantitative", "title": null},
"y": {"field": "p", "type": "quantitative", "title": null},
"text": {"field": "p", "type": "quantitative", "format": ".2f"}
}
},
{
"data": {"values": [{}]},
"mark": {"type": "tick", "orient": "horizontal", "size": 37, "thickness": 13, "color": "#000000", "opacity": 1},
"encoding": {
"x": {"datum": 473.25, "type": "quantitative", "title": null},
"y": {"datum": 304.08, "type": "quantitative", "title": null}
}
},
{
"data": {"values": [{}]},
"mark": {"type": "text", "align": "left", "baseline": "middle", "color": "#FFFFFF", "font": "Liberation Sans", "fontSize": 9.5, "text": "304.08"},
"encoding": {
"x": {"datum": 469.4, "type": "quantitative", "title": null},
"y": {"datum": 304.08, "type": "quantitative", "title": null}
}
},
{
"data": {"values": [{}]},
"mark": {"type": "text", "align": "left", "baseline": "middle", "color": "#000000", "font": "Liberation Sans", "fontSize": 9.5, "text": "#MCDONALDS,H4"},
"encoding": {
"x": {"datum": 3.125, "type": "quantitative", "title": null},
"y": {"datum": 327.71, "type": "quantitative", "title": null}
}
},
{
"data": {"values": [{}]},
"mark": {"type": "point", "shape": "triangle-down", "filled": true, "color": "#000000", "size": 20, "opacity": 1},
"encoding": {
"x": {"datum": 1.25, "type": "quantitative", "title": null},
"y": {"datum": 327.71, "type": "quantitative", "title": null}
}
}
]
}
